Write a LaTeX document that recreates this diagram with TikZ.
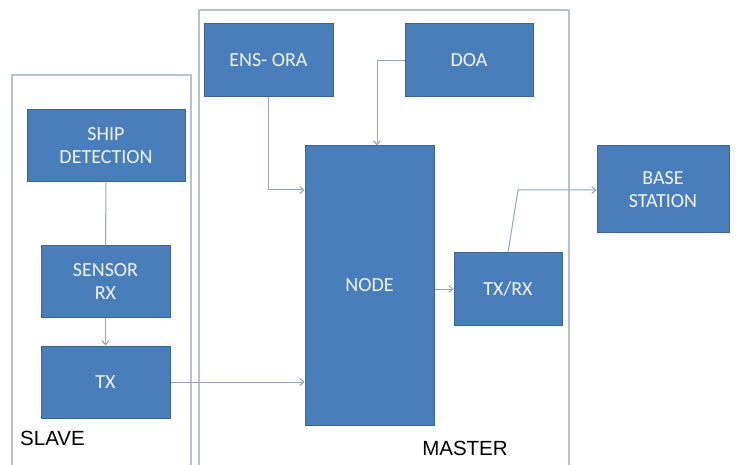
\documentclass[tikz,border=0pt]{standalone}
\usepackage{fontspec}
\setmainfont{Carlito}
\newfontfamily\labfont{Liberation Sans}
\usetikzlibrary{arrows.meta}
\definecolor{boxfill}{HTML}{4A7EBB}
\definecolor{boxline}{HTML}{3A6494}
\definecolor{conn}{HTML}{8FA6BE}
\definecolor{frame}{HTML}{B8C2CC}
\definecolor{boxtext}{HTML}{EEF3FA}
\tikzset{
  blk/.style={draw=boxline, line width=1pt, fill=boxfill, text=boxtext, font=\fontsize{20}{23}\selectfont, align=center, inner sep=0pt},
  conline/.style={draw=conn, line width=1pt},
  conarrow/.style={conline, -{Straight Barb[length=4pt,width=7pt]}},
  frm/.style={draw=frame, line width=1.2pt},
  lab/.style={font=\labfont\fontsize{20.5}{24}\selectfont, text=black, inner sep=0pt}
}
\begin{document}
\begin{tikzpicture}[x=1pt,y=-1pt]
\useasboundingbox (0,0) rectangle (739,465);
\fill[white] (0,0) rectangle (739,465);
% frames
\draw[frm] (12,470) |- (191,75) -- (191,470);
\draw[frm] (199,470) |- (569,10) -- (569,470);
% boxes
\node[blk, minimum width=158, minimum height=72] (ship) at (106,146) {SHIP\\DETECTION};
\node[blk, minimum width=129, minimum height=71] (sensor) at (105.5,281.5) {SENSOR\\RX};
\node[blk, minimum width=129, minimum height=72] (tx) at (105.5,382) {TX};
\node[blk, minimum width=129, minimum height=73] (ens) at (268.5,60.5) {ENS- ORA};
\node[blk, minimum width=128, minimum height=73] (doa) at (469,60.5) {DOA};
\node[blk, minimum width=129, minimum height=279] (node) at (369.5,285.5) {NODE};
\node[blk, minimum width=108, minimum height=72] (txrx) at (508,289) {TX/RX};
\node[blk, minimum width=132, minimum height=87] (base) at (663,189.5) {BASE\\STATION};
% labels
\node[lab, anchor=west] (slave) at (20,438) {SLAVE};
\node[lab] (master) at (465,448) {MASTER};
% connectors
\coordinate (y190) at (0,190);
\coordinate (x377) at (377,0);
\coordinate (bend) at (518,190);
\draw[conline] (ship.south) -- (sensor.north);
\draw[conarrow] (sensor.south) -- (tx.north);
\draw[conarrow] (tx.east) -- (tx.east -| node.west);
\draw[conarrow] (ens.south) |- (node.west |- y190);
\draw[conarrow] (doa.west) -| (x377 |- node.north);
\draw[conarrow] (node.east |- txrx.west) -- (txrx.west);
\draw[conarrow] (txrx.north) -- (bend) -- (bend -| base.west);
\end{tikzpicture}
\end{document}
